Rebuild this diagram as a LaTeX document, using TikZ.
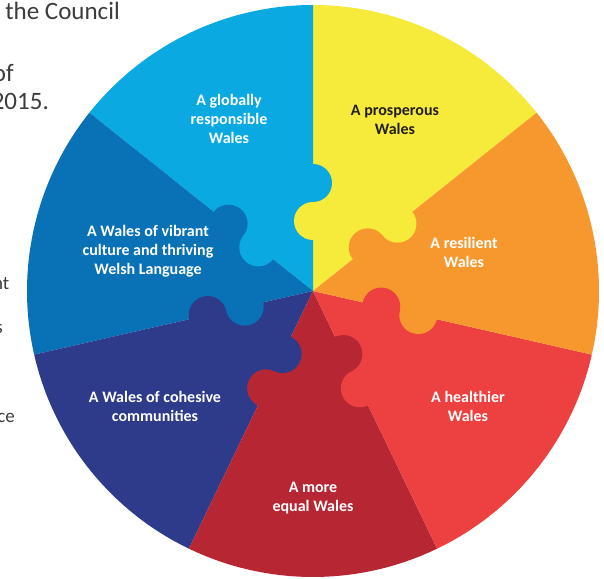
\documentclass[tikz,border=0pt]{standalone}
\usepackage{fontspec}
\setmainfont{Carlito}
\usetikzlibrary{calc}
\definecolor{cyel}{HTML}{F6EB3B}
\definecolor{corg}{HTML}{F7982F}
\definecolor{cred}{HTML}{EC4140}
\definecolor{cdred}{HTML}{B72633}
\definecolor{cnavy}{HTML}{2E3B8B}
\definecolor{cblue}{HTML}{0971B6}
\definecolor{clblue}{HTML}{0BA9E1}
\definecolor{cdark}{HTML}{231F20}
\definecolor{cside}{HTML}{3C3C3B}
\tikzset{
  lbl/.style={align=center, text=white, inner sep=0pt, font=\bfseries\fontsize{16}{19}\selectfont},
  side/.style={text=cside, inner sep=0pt, anchor=base east},
  bigside/.style={side, font=\fontsize{25}{28}\selectfont},
  smallside/.style={side, font=\fontsize{19}{22}\selectfont},
}
\begin{document}
\begin{tikzpicture}[x=1pt,y=1pt]
\useasboundingbox (0,0) rectangle (604,578);
\fill[white] (0,0) rectangle (604,578);
\coordinate (C) at (313,287);
\def\R{286}
% sectors
\fill[cyel]   (C) -- ++(38.571:\R)   arc[start angle=38.571,  end angle=90,      radius=\R] -- cycle;
\fill[clblue] (C) -- ++(90:\R)       arc[start angle=90,      end angle=141.429, radius=\R] -- cycle;
\fill[cblue]  (C) -- ++(141.429:\R)  arc[start angle=141.429, end angle=192.857, radius=\R] -- cycle;
\fill[cnavy]  (C) -- ++(192.857:\R)  arc[start angle=192.857, end angle=244.286, radius=\R] -- cycle;
\fill[cdred]  (C) -- ++(244.286:\R)  arc[start angle=244.286, end angle=295.714, radius=\R] -- cycle;
\fill[cred]   (C) -- ++(295.714:\R)  arc[start angle=295.714, end angle=347.143, radius=\R] -- cycle;
\fill[corg]   (C) -- ++(347.143:\R)  arc[start angle=347.143, end angle=398.571, radius=\R] -- cycle;
% puzzle knobs: outer (ccw sector colour) and inner (cw sector colour)
\def\ro{108}\def\ri{70}\def\rk{19}
\fill[clblue] ($(C)+(90:\ro)$) circle[radius=\rk];
\fill[cyel]   ($(C)+(90:\ri)$) circle[radius=\rk];
\fill[cyel]   ($(C)+(38.571:\ro)$) circle[radius=\rk];
\fill[corg]   ($(C)+(38.571:\ri)$) circle[radius=\rk];
\fill[corg]   ($(C)+(-12.857:\ro)$) circle[radius=\rk];
\fill[cred]   ($(C)+(-12.857:\ri)$) circle[radius=\rk];
\fill[cred]   ($(C)+(-64.286:\ro)$) circle[radius=\rk];
\fill[cdred]  ($(C)+(-64.286:\ri)$) circle[radius=\rk];
\fill[cdred]  ($(C)+(-115.714:\ro)$) circle[radius=\rk];
\fill[cnavy]  ($(C)+(-115.714:\ri)$) circle[radius=\rk];
\fill[cnavy]  ($(C)+(-167.143:\ro)$) circle[radius=\rk];
\fill[cblue]  ($(C)+(-167.143:\ri)$) circle[radius=\rk];
\fill[cblue]  ($(C)+(141.429:\ro)$) circle[radius=\rk];
\fill[clblue] ($(C)+(141.429:\ri)$) circle[radius=\rk];
% labels
\node[lbl, text=cdark] (prosp) at (395,458.5) {A prosperous\\Wales};
\node[lbl] (glob) at (229,459) {A globally\\responsible\\Wales};
\node[lbl] (resil) at (464,325.5) {A resilient\\Wales};
\node[lbl] (vibr) at (148,327) {A Wales of vibrant\\culture and thriving\\Welsh Language};
\node[lbl] (heal) at (468,171.5) {A healthier\\Wales};
\node[lbl] (equal) at (313,79.5) {A more\\equal Wales};
\node[lbl] (cohes) at (155,171.5) {A Wales of cohesive\\communities};
% side texts
\node[bigside] (s1) at (120,558) {the Council};
\node[bigside] (s2) at (14,496) {of};
\node[bigside] (s3) at (49,468) {2015.};
\node[smallside] (s4) at (9.5,288) {nt};
\node[smallside] (s5) at (3,244) {s};
\node[smallside] (s6) at (15,155) {ce};
\end{tikzpicture}
\end{document}
